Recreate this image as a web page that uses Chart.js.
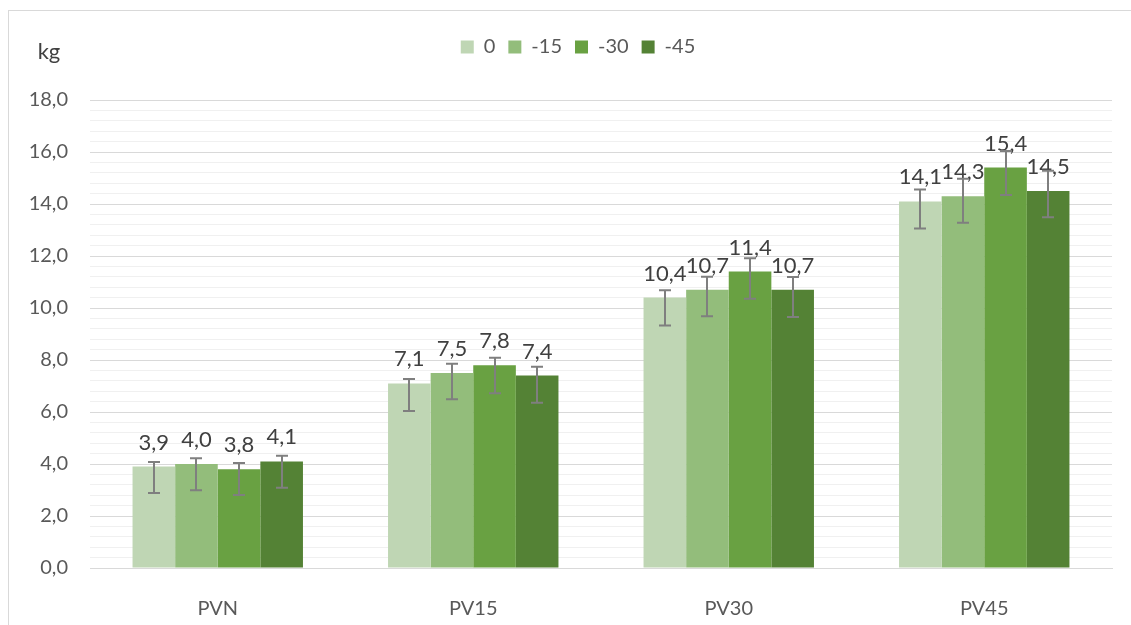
<!DOCTYPE html>
<html>
<head>
<meta charset="utf-8">
<script src="https://cdn.jsdelivr.net/npm/chart.js@4/dist/chart.umd.min.js"></script>
<style>
  html, body { margin: 0; padding: 0; background: #ffffff; overflow: hidden; }
  #wrap { position: relative; width: 1131px; height: 625px; }
  #frame { position: absolute; left: 8px; top: 10px; width: 1140px; height: 640px; border: 1px solid #d9d9d9; box-sizing: border-box; pointer-events: none; }
  canvas { position: absolute; left: 0; top: 0; }
</style>
</head>
<body>
<div id="wrap">
  <canvas id="c" width="1131" height="625"></canvas>
  <div id="frame"></div>
</div>
<script>
// ---- data ----
const categories = ['PVN', 'PV15', 'PV30', 'PV45'];
const seriesNames = ['0', '-15', '-30', '-45'];
const values0  = [3.9, 7.1, 10.4, 14.1];
const values15 = [4.0, 7.5, 10.7, 14.3];
const values30 = [3.8, 7.8, 11.4, 15.4];
const values45 = [4.1, 7.4, 10.7, 14.5];
// error bar ends (absolute values)
const errHigh0  = [4.08, 7.27, 10.68, 14.56];
const errHigh15 = [4.22, 7.86, 11.20, 14.97];
const errHigh30 = [4.04, 8.09, 11.91, 16.04];
const errHigh45 = [4.32, 7.74, 11.19, 15.28];
const errLow0  = [2.88, 6.04, 9.33, 13.06];
const errLow15 = [2.99, 6.49, 9.68, 13.28];
const errLow30 = [2.81, 6.72, 10.36, 14.35];
const errLow45 = [3.09, 6.36, 9.65, 13.49];
const yTickLabels = ['0,0', '2,0', '4,0', '6,0', '8,0', '10,0', '12,0', '14,0', '16,0', '18,0'];
const yUnit = 'kg';

const colors = ['#bfd6b4', '#93bd7b', '#69a142', '#548235'];
const allValues = [values0, values15, values30, values45];
const allHigh = [errHigh0, errHigh15, errHigh30, errHigh45];
const allLow = [errLow0, errLow15, errLow30, errLow45];

const FONT = "Lato, 'Liberation Sans', sans-serif";

const legendFitPlugin = {
  id: 'legendFit',
  afterInit(chart) {
    const lg = chart.legend;
    if (!lg) return;
    const orig = lg.fit;
    lg.fit = function () {
      orig.call(this);
      this.height = 76;
    };
  },
  beforeDraw(chart) {
    const lg = chart.legend;
    if (lg && !lg._shifted) {
      lg.left += 22; lg.right += 22;
      lg._shifted = true;
    }
  }
};

const errorBarPlugin = {
  id: 'errorBars',
  afterDatasetsDraw(chart) {
    const ctx = chart.ctx;
    const y = chart.scales.y;
    // data labels
    ctx.save();
    ctx.font = '22px ' + FONT;
    ctx.fillStyle = '#404040';
    ctx.textAlign = 'center';
    ctx.textBaseline = 'alphabetic';
    chart.data.datasets.forEach((ds, i) => {
      const meta = chart.getDatasetMeta(i);
      meta.data.forEach((el, j) => {
        const v = ds.data[j];
        ctx.fillText(v.toFixed(1).replace('.', ','), el.x, el.y - 17);
      });
    });
    ctx.restore();
    // error bars
    ctx.save();
    ctx.strokeStyle = '#7f7f7f';
    ctx.lineWidth = 2;
    chart.data.datasets.forEach((ds, i) => {
      const meta = chart.getDatasetMeta(i);
      meta.data.forEach((el, j) => {
        const x = Math.round(el.x);
        const yh = y.getPixelForValue(allHigh[i][j]);
        const yl = y.getPixelForValue(allLow[i][j]);
        ctx.beginPath();
        ctx.moveTo(x, yh); ctx.lineTo(x, yl);
        ctx.moveTo(x - 6, yh); ctx.lineTo(x + 6, yh);
        ctx.moveTo(x - 6, yl); ctx.lineTo(x + 6, yl);
        ctx.stroke();
      });
    });
    ctx.restore();
    // unit label
    ctx.save();
    ctx.font = '22px ' + FONT;
    ctx.fillStyle = '#404040';
    ctx.textAlign = 'center';
    ctx.textBaseline = 'middle';
    ctx.fillText(yUnit, 49, 52);
    ctx.restore();
  }
};

new Chart(document.getElementById('c'), {
  type: 'bar',
  data: {
    labels: categories,
    datasets: seriesNames.map((n, i) => ({
      label: n,
      data: allValues[i],
      backgroundColor: colors[i],
      borderWidth: 0,
      categoryPercentage: 0.667,
      barPercentage: 1.0
    }))
  },
  options: {
    responsive: false,
    animation: false,
    devicePixelRatio: 1,
    layout: { padding: { left: 0, right: 19, top: 24, bottom: 0 } },
    plugins: {
      legend: {
        position: 'top',
        labels: {
          boxWidth: 13, boxHeight: 13, padding: 13,
          color: '#595959',
          font: { size: 20, family: FONT }
        }
      },
      tooltip: { enabled: false }
    },
    scales: {
      x: {
        grid: { display: false },
        border: { display: true, color: '#d9d9d9', width: 1 },
        ticks: { color: '#595959', font: { size: 20, family: FONT }, padding: 21 },
        afterFit(s) { s.height = 625 - 568; }
      },
      y: {
        min: 0, max: 18,
        border: { display: false },
        grid: {
          drawTicks: false,
          color: (c) => (Math.round(c.tick.value * 10) % 20 === 0 ? '#d9d9d9' : '#f0f0f0'),
          lineWidth: 1
        },
        ticks: {
          stepSize: 0.4,
          autoSkip: false,
          padding: 22,
          color: '#595959',
          font: { size: 20, family: FONT },
          callback: (v) => {
            const r = Math.round(v * 10);
            return r % 20 === 0 ? yTickLabels[r / 20] : '';
          }
        },
        afterFit(s) { s.width = 90; }
      }
    }
  },
  plugins: [legendFitPlugin, errorBarPlugin]
});
</script>
</body>
</html>
